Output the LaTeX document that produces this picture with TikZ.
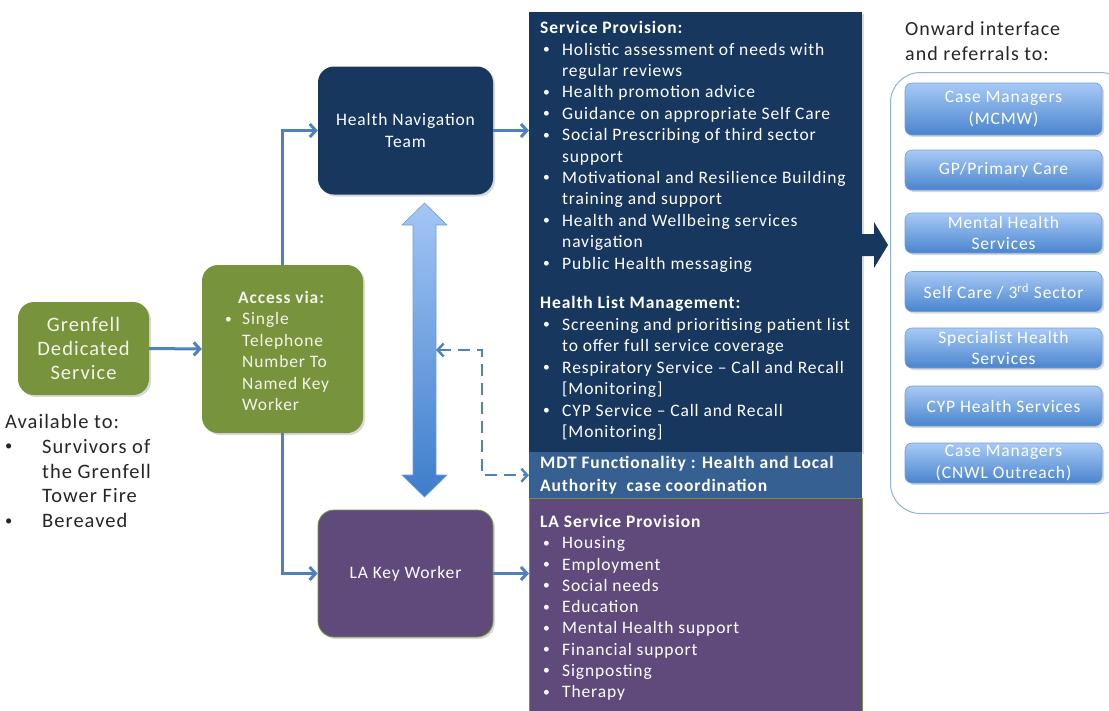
\documentclass[tikz,border=0pt]{standalone}
\usepackage{fontspec}
\setmainfont{Carlito}[LetterSpace=5]
\usepackage{array}
\usetikzlibrary{arrows.meta,shadows}
\definecolor{navy}{HTML}{17375E}
\definecolor{mdtblue}{HTML}{376092}
\definecolor{lapurple}{HTML}{604A7B}
\definecolor{olive}{HTML}{77933C}
\definecolor{conblue}{HTML}{4F81BD}
\definecolor{panelline}{HTML}{8EB4E3}
\definecolor{boxtop}{HTML}{A7CAF6}
\definecolor{boxbot}{HTML}{4A84CE}
\definecolor{boxline}{HTML}{6F9FD8}
\definecolor{dbltop}{HTML}{A4C6F5}
\definecolor{dblbot}{HTML}{3D7DCC}
\definecolor{cream}{HTML}{F4F4EC}
\definecolor{darktext}{HTML}{262626}
\newcommand\fsz[2]{\fontsize{#1}{#2}\selectfont}
\newcommand\blt{\hspace{3pt}\raisebox{1.6pt}{\fsz{13.5}{13.5}\textbullet}}
\newcommand\bigblt{\raisebox{2.4pt}{\fsz{14.5}{14.5}\textbullet}}
\begin{document}
\begin{tikzpicture}[x=1pt,y=-1pt,
  con/.style={draw=conblue, line width=3pt, -{Straight Barb[length=6pt,width=13pt]}},
  dashcon/.style={draw=conblue, line width=2.4pt, dash pattern=on 12pt off 7pt,
     {Straight Barb[length=6pt,width=13pt]}-{Straight Barb[length=6pt,width=13pt]}},
  shade/.style={drop shadow={opacity=0.3,shadow xshift=2pt,shadow yshift=-2pt}},
  rbox/.style={rounded corners=16pt, inner sep=0pt, shade},
  refbox/.style={rounded corners=7pt, top color=boxtop, bottom color=boxbot, draw=boxline,
     line width=0.6pt, minimum width=197pt, inner sep=0pt, text=white, align=center,
     font=\fsz{17.5}{21.5}, shade},
  panel/.style={fill=#1, inner sep=0pt, anchor=north west},
  txt/.style={anchor=north west, inner sep=0pt, text=white},
]
\useasboundingbox (0,0) rectangle (1109,710);

% left boxes
\node[rbox, fill=olive, text=cream, minimum width=131pt, minimum height=93pt, align=center,
      font=\fsz{20.5}{24}] (gren) at (83.5,348.5) {Grenfell\\Dedicated\\Service};
\node[rbox, fill=olive, minimum width=161pt, minimum height=168pt] (acc) at (282.5,349) {};
\node[txt, text=cream, font=\fsz{17.5}{21.5}] (acctxt) at (222,288) {%
\begin{tabular}{@{}p{20pt}@{}l@{}}
\multicolumn{2}{@{\hspace{16pt}}l@{}}{\textbf{Access via:}}\\
\blt & Single\\
 & Telephone\\
 & Number To\\
 & Named Key\\
 & Worker
\end{tabular}};

\node[anchor=north west, inner sep=0pt, text=darktext, font=\fsz{20.5}{24.7}] (avail) at (5,411.2) {%
\begin{tabular}{@{}p{37pt}@{}l@{}}
\multicolumn{2}{@{}l@{}}{Available to:}\\
\bigblt & Survivors of\\
 & the Grenfell\\
 & Tower Fire\\
\bigblt & Bereaved
\end{tabular}};

% middle boxes
\node[rbox, fill=navy, text=white, minimum width=175pt, minimum height=128pt, align=center,
      font=\fsz{17.5}{21.5}] (hnt) at (405.5,130.5) {Health Navigation\\Team};
\node[rbox, fill=lapurple, draw=olive, line width=0.8pt, text=white, minimum width=175pt,
      minimum height=127pt, font=\fsz{17.5}{21.5}] (lak) at (405.5,573.5) {LA Key Worker};

% service column
\node[panel=navy, minimum width=333pt, minimum height=440pt, shade] (sp) at (529,12) {};
\node[panel=mdtblue, minimum width=333pt, minimum height=46pt] (mdt) at (529,452) {};
\node[panel=lapurple, draw=olive, line width=0.8pt, minimum width=333pt, minimum height=220pt] (lasp) at (529,498) {};

\node[txt, font=\fsz{17.5}{21.4}] (sptxt) at (540,18.5) {%
\begin{tabular}{@{}p{22pt}@{}l@{}}
\multicolumn{2}{@{}l@{}}{\textbf{Service Provision:}}\\
\blt & Holistic assessment of needs with\\
 & regular reviews\\
\blt & Health promotion advice\\
\blt & Guidance on appropriate Self Care\\
\blt & Social Prescribing of third sector\\
 & support\\
\blt & Motivational and Resilience Building\\
 & training and support\\
\blt & Health and Wellbeing services\\
 & navigation\\
\blt & Public Health messaging
\end{tabular}};

\node[txt, font=\fsz{17.5}{21.5}] (hltxt) at (540,293.5) {%
\begin{tabular}{@{}p{22pt}@{}l@{}}
\multicolumn{2}{@{}l@{}}{\textbf{Health List Management:}}\\
\blt & Screening and prioritising patient list\\
 & to offer full service coverage\\
\blt & Respiratory Service -- Call and Recall\\
 & [Monitoring]\\
\blt & CYP Service -- Call and Recall\\
 & [Monitoring]
\end{tabular}};

\node[txt, font=\fsz{17.5}{23}\bfseries] (mdttxt) at (540,452.4) {%
\begin{tabular}{@{}l@{}}
MDT Functionality\ : Health and Local\\
Authority\ \ case coordination
\end{tabular}};

\node[txt, font=\fsz{17.5}{21.25}] (latxt) at (540,512.6) {%
\begin{tabular}{@{}p{22pt}@{}l@{}}
\multicolumn{2}{@{}l@{}}{\textbf{LA Service Provision}}\\
\blt & Housing\\
\blt & Employment\\
\blt & Social needs\\
\blt & Education\\
\blt & Mental Health support\\
\blt & Financial support\\
\blt & Signposting\\
\blt & Therapy
\end{tabular}};

% right panel
\node[anchor=north west, inner sep=0pt, text=darktext, font=\fsz{20}{25}] (onward) at (905,18) {%
\begin{tabular}{@{}l@{}}
Onward interface\\
and referrals to:
\end{tabular}};
\node[draw=panelline, line width=1pt, fill=white, rounded corners=30pt, anchor=north west,
      minimum width=240pt, minimum height=441pt] (refpanel) at (890,72) {};

\node[refbox, minimum height=52pt] (r1) at (1003.5,109) {Case Managers\\(MCMW)};
\node[refbox, minimum height=40pt] (r2) at (1003.5,170) {GP/Primary Care};
\node[refbox, minimum height=40pt] (r3) at (1003.5,233) {Mental Health\\Services};
\node[refbox, minimum height=40pt] (r4) at (1003.5,291.5) {Self Care / 3\textsuperscript{rd} Sector};
\node[refbox, minimum height=40pt] (r5) at (1003.5,348) {Specialist Health\\Services};
\node[refbox, minimum height=40pt] (r6) at (1003.5,406) {CYP Health Services};
\node[refbox, minimum height=40pt] (r7) at (1003.5,463) {Case Managers\\(CNWL Outreach)};

% block arrow to referrals
\fill[navy] (862,234) -- (874,234) -- (874,222) -- (888,245) -- (874,268) -- (874,256) -- (862,256) -- cycle;

% double arrow
\path[top color=dbltop, bottom color=dblbot, draw=boxline, line width=0.6pt]
  (424.5,203) -- (447,225) -- (436,225) -- (436,475) -- (447,475) -- (424.5,497)
  -- (402,475) -- (413,475) -- (413,225) -- (402,225) -- cycle;
\coordinate (dblmid) at (436,350);

% connectors
\draw[con] (gren.east) -- (acc.west);
\draw[con] (acc.north) |- (hnt.west);
\draw[con] (acc.south) |- (lak.west);
\draw[con] (hnt.east) -- (hnt.east -| sp.west);
\draw[con] (lak.east) -- (lak.east -| lasp.west);
\draw[dashcon] (dblmid) -- ++(46,0) |- (mdt.west);
\end{tikzpicture}
\end{document}
